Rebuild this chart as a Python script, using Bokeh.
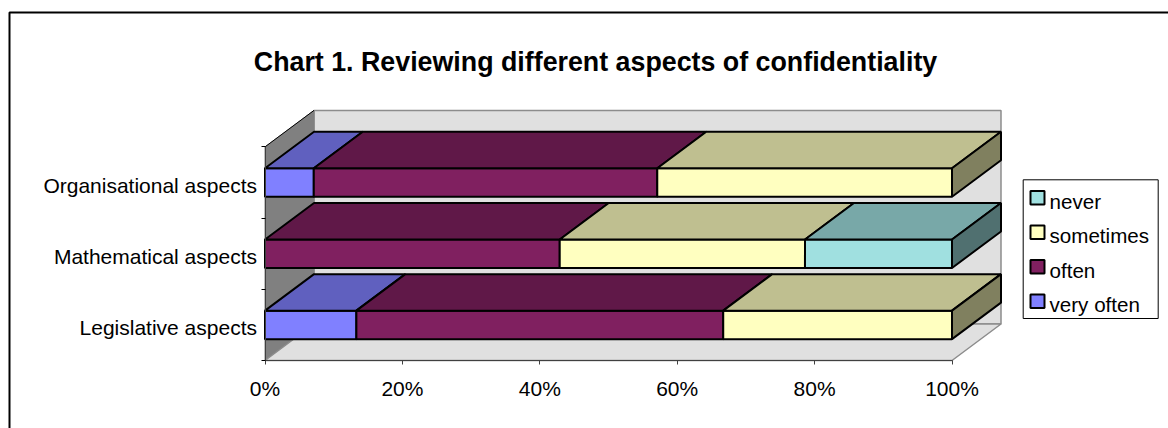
from bokeh.plotting import figure
from bokeh.embed import file_html
from bokeh.resources import INLINE
from bokeh.models import Range1d, LinearAxis, FixedTicker
from bokeh.core.properties import value

categories = ["Legislative aspects", "Mathematical aspects", "Organisational aspects"]
series_names = ["very often", "often", "sometimes", "never"]
very_often = [13.3, 0.0, 7.1]
often = [53.4, 42.9, 50.0]
sometimes = [33.3, 35.7, 42.9]
never = [0.0, 21.4, 0.0]
series_values = [very_often, often, sometimes, never]
x_ticks = [0, 20, 40, 60, 80, 100]
front_colors = ["#8080ff", "#802060", "#ffffc0", "#a0e0e0"]
top_colors = ["#6060bf", "#601848", "#bfbf90", "#78a8a8"]
side_colors = ["#404080", "#401030", "#80805f", "#507070"]
title_text = "Chart 1. Reviewing different aspects of confidentiality"

W, H = 1168, 428
PX_X = 6.87     # pixels per percent
PX_Y = 71.2     # pixels per category
X0 = 264.5      # px of 0%
Y0 = 360.0      # px (from top) of baseline
DX = 49 / PX_X  # 3-D depth in data units
DY = 36.5 / PX_Y
BAR = 0.4
LABEL_SHIFT = 3 / PX_Y
FONT = "Liberation Sans"


def fx(px):
    return (px - X0) / PX_X


def fy(px):
    return (Y0 - px) / PX_Y


p = figure(width=W, height=H, output_backend="svg", toolbar_location=None,
           x_range=Range1d(fx(0), fx(W)), y_range=Range1d(fy(H), fy(0)),
           x_axis_type=None, y_axis_type=None, min_border=0,
           background_fill_color="white", border_fill_color="white",
           outline_line_color=None)
p.grid.visible = False

n = len(categories)
# back wall, side wall, floor
p.patch([DX, 100 + DX, 100 + DX, DX], [DY, DY, n + DY, n + DY],
        fill_color="#e0e0e0", line_color="#8c8c8c", line_width=1.5)
p.patch([0, DX, DX, 0], [0, DY, n + DY, n],
        fill_color="#808080", line_color="#808080", line_width=1)
p.line([0, DX], [n, n + DY], line_color="black", line_width=1)
p.patch([0, 100, 100 + DX, DX], [0, 0, DY, DY],
        fill_color="#e0e0e0", line_color="#8c8c8c", line_width=1.5)

for i, cat in enumerate(categories):
    y1 = i + 0.5 - BAR / 2
    y2 = i + 0.5 + BAR / 2
    left = 0.0
    last = None
    for s, name in enumerate(series_names):
        v = series_values[s][i]
        if v <= 0:
            continue
        right = left + v
        p.patch([left, right, right, left], [y1, y1, y2, y2],
                fill_color=front_colors[s], line_color="black", line_width=2)
        p.patch([left, right, right + DX, left + DX], [y2, y2, y2 + DY, y2 + DY],
                fill_color=top_colors[s], line_color="black", line_width=2)
        left = right
        last = s
    p.patch([left, left + DX, left + DX, left], [y1, y1 + DY, y2 + DY, y2],
            fill_color=side_colors[last], line_color="black", line_width=2)

# axes
xax = LinearAxis(fixed_location=0, bounds=(0, 100), ticker=FixedTicker(ticks=x_ticks),
                 major_label_overrides={t: f"{t}%" for t in x_ticks},
                 major_tick_in=0, major_tick_out=4, minor_tick_line_color=None,
                 axis_line_color="#404040", major_tick_line_color="#404040",
                 major_label_text_font=FONT, major_label_text_font_size="21px",
                 major_label_text_color="black", major_label_standoff=12)
p.add_layout(xax, "below")
centers = [i + 0.5 - LABEL_SHIFT for i in range(n)]
yax = LinearAxis(fixed_location=0, bounds=(0, n),
                 ticker=FixedTicker(ticks=centers, minor_ticks=list(range(n + 1))),
                 major_label_overrides={c: t for c, t in zip(centers, categories)},
                 major_tick_line_color=None, major_tick_in=0, major_tick_out=0,
                 minor_tick_in=0, minor_tick_out=4, minor_tick_line_color="black",
                 axis_line_color="#404040", major_label_standoff=4,
                 major_label_text_font=FONT, major_label_text_font_size="21px",
                 major_label_text_color="black")
p.add_layout(yax, "left")

# legend
leg_x0, leg_x1, leg_y0, leg_y1 = 1022.7, 1157.7, 179.3, 318.0
p.patch([fx(leg_x0), fx(leg_x1), fx(leg_x1), fx(leg_x0)],
        [fy(leg_y0), fy(leg_y0), fy(leg_y1), fy(leg_y1)],
        fill_color="white", line_color="black", line_width=1)
for k, s in enumerate(reversed(range(len(series_names)))):
    top = 190.5 + 34.5 * k
    p.patch([fx(1030), fx(1044), fx(1044), fx(1030)],
            [fy(top), fy(top), fy(top + 13.5), fy(top + 13.5)],
            fill_color=front_colors[s], line_color="black", line_width=2)
    p.text([fx(1049)], [fy(top + 10)], text=[series_names[s]],
           text_font=value(FONT), text_font_size=value("20.6px"),
           text_align="left", text_baseline="middle", text_color="black")

# title
p.text([fx(595)], [fy(61)], text=[title_text],
       text_font=value(FONT), text_font_size=value("26.8px"), text_font_style="bold",
       text_align="center", text_baseline="middle", text_color="black")

# frame around the whole chart
p.line([fx(9), fx(9), fx(W + 5)], [fy(H + 5), fy(12), fy(12)],
       line_color="black", line_width=2)

open("out.html", "w").write(file_html(p, INLINE))
